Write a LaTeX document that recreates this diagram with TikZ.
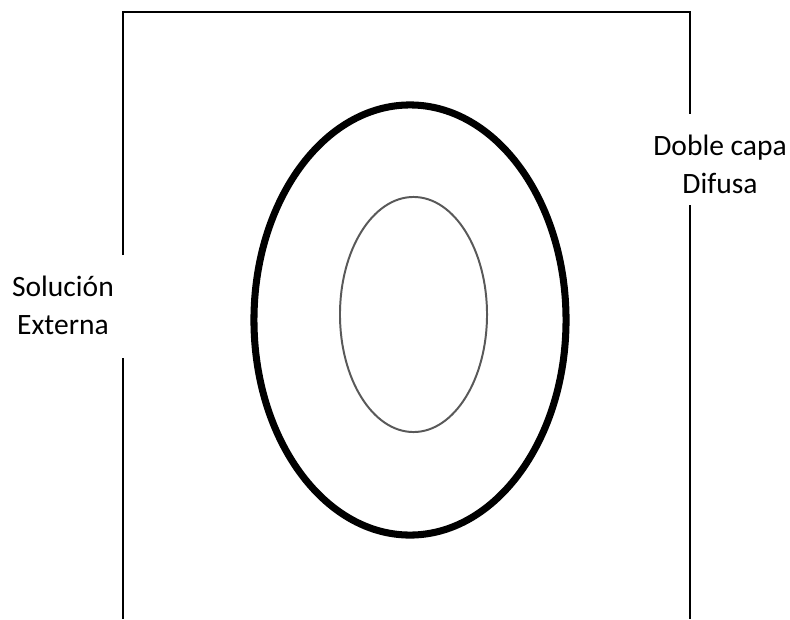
\documentclass[tikz,border=0pt]{standalone}
\usepackage{fontspec}
\setmainfont{Carlito}
\usetikzlibrary{shapes.geometric}

\begin{document}
\begin{tikzpicture}[x=0.025cm, y=-0.025cm]
        \tikzstyle{wall} = [line width=1.4pt, draw=black]
        \tikzstyle{txt} = [align=center, inner sep=0pt, font=\fontsize{21}{27}\selectfont]
        \tikzstyle{shell} = [ellipse, draw=black, line width=5pt, inner sep=0pt, minimum width=7.8cm, minimum height=10.75cm]
        \tikzstyle{core} = [ellipse, draw=black!65, line width=1.4pt, inner sep=0pt, minimum width=3.675cm, minimum height=5.875cm]

        \useasboundingbox (0,0) rectangle (790,619);

        \coordinate (tl) at (123,12);
        \coordinate (tr) at (690,12);
        \coordinate (bl) at (123,619);
        \coordinate (br) at (690,619);
        \coordinate (l1) at (123,255);
        \coordinate (l2) at (123,358);
        \coordinate (r1) at (690,114);
        \coordinate (r2) at (690,205);

        \node (sol) [txt] at (63,305) {Solución\\Externa};
        \node (dob) [txt] at (720,164) {Doble capa\\Difusa};
        \node (outer) [shell] at (410,320) {};
        \node (inner) [core] at (413.5,314.5) {};

        \draw [wall] (l1) -- (tl) -- (tr) -- (r1);
        \draw [wall] (l2) -- (bl);
        \draw [wall] (r2) -- (br);
\end{tikzpicture}
\end{document}
